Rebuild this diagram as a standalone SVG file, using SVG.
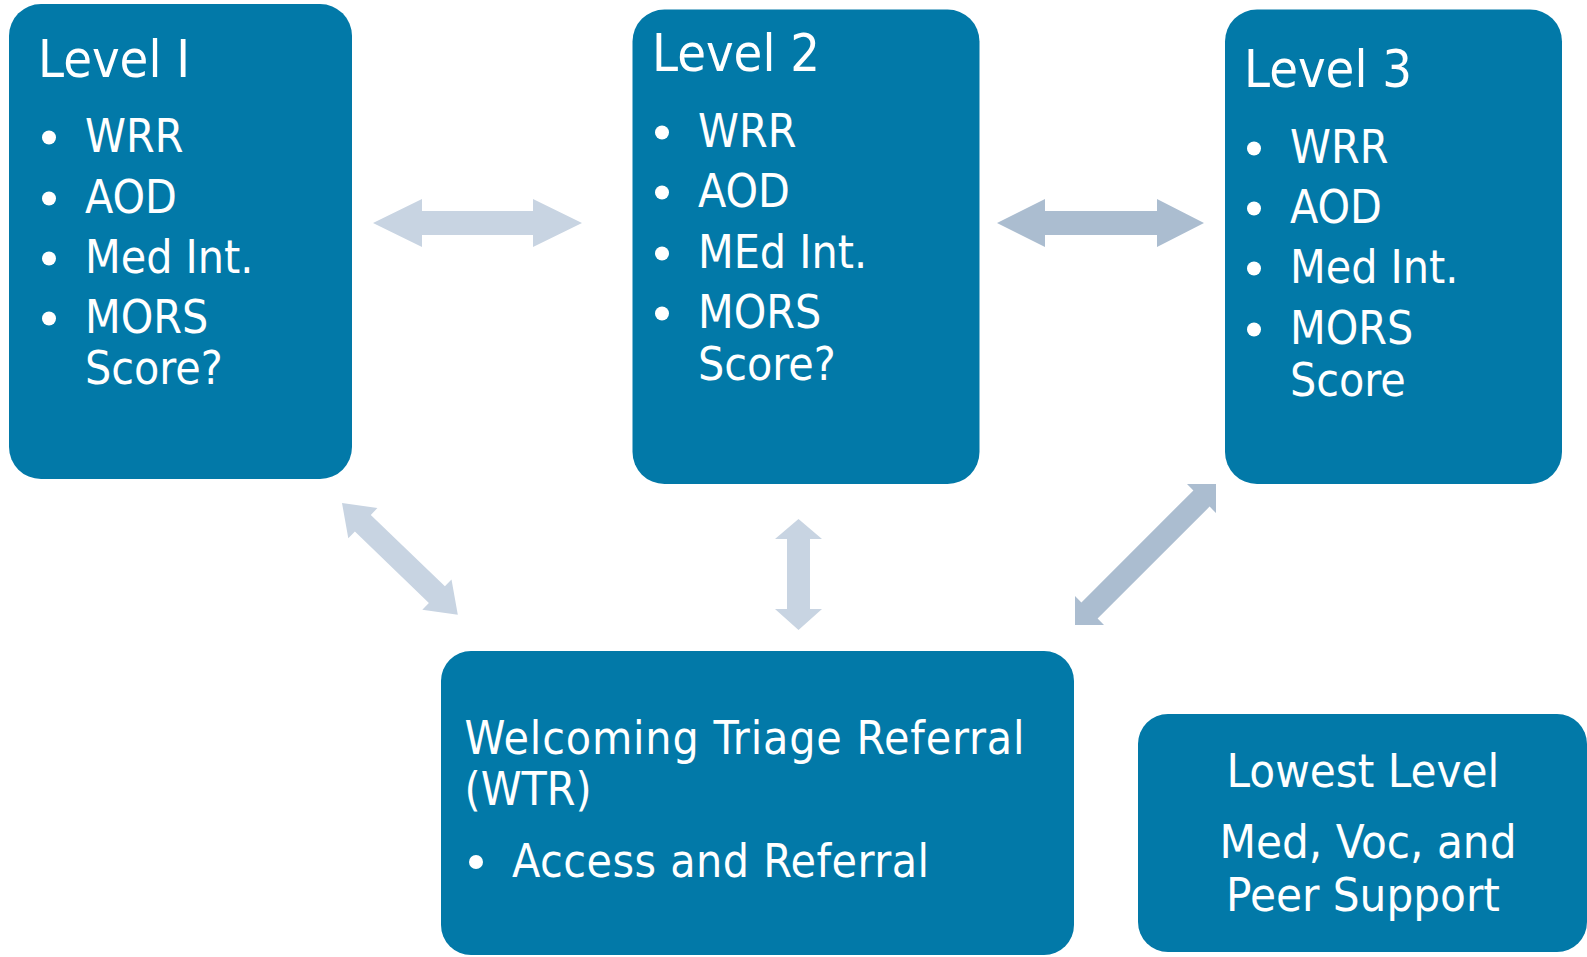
<svg xmlns="http://www.w3.org/2000/svg" width="1587" height="957" viewBox="0 0 1587 957">
<style>
.box{fill:#0279A8;}
.t{fill:#ffffff;font-family:"DejaVu Sans Condensed","DejaVu Sans",sans-serif;font-size:46px;}
.title{font-size:52px;}
.c{text-anchor:middle;font-size:47px;}
.dot{fill:#ffffff;}
.al{fill:#C8D4E2;}
.ad{fill:#ABBDD0;}
</style>
<rect width="1587" height="957" fill="#ffffff"/>
<g id="connectors">
<polygon class="al" points="373,223 422,199 422,211 533,211 533,199 582,223 533,247 533,235 422,235 422,247"/>
<polygon class="ad" points="997,223 1045,199 1045,211 1157,211 1157,199 1204,223 1157,247 1157,235 1045,235 1045,247"/>
<polygon class="al" points="342,503 377.4,508 370.8,514.9 444.9,586.3 451.5,579.5 457.8,614.7 422.3,609.7 428.9,602.9 354.9,531.4 348.3,538.2"/>
<polygon class="al" points="798.5,519 822,539 810,539 810,609 822,609 798.5,630 775,609 787,609 787,539 775,539"/>
<polygon class="ad" points="1216,484 1216,513 1209.6,506.6 1097.6,618.6 1104,625 1075,625 1075,596 1081.4,602.4 1193.4,490.4 1187,484"/>
</g>
<g id="level1">
<rect class="box" x="9" y="4" width="343" height="475" rx="32"/>
<text class="t title" x="38" y="77">Level I</text>
<circle class="dot" cx="49" cy="137.5" r="7"/>
<circle class="dot" cx="49" cy="198.5" r="7"/>
<circle class="dot" cx="49" cy="258.5" r="7"/>
<circle class="dot" cx="49" cy="318.5" r="7"/>
<text class="t" x="85" y="152">WRR</text>
<text class="t" x="85" y="213">AOD</text>
<text class="t" x="85" y="273">Med Int.</text>
<text class="t" x="85" y="333">MORS</text>
<text class="t" x="85" y="384">Score?</text>
</g>
<g id="level2">
<rect class="box" x="632.5" y="9.5" width="347" height="474.5" rx="32"/>
<text class="t title" x="652" y="71">Level 2</text>
<circle class="dot" cx="662" cy="132.5" r="7"/>
<circle class="dot" cx="662" cy="192.5" r="7"/>
<circle class="dot" cx="662" cy="253.5" r="7"/>
<circle class="dot" cx="662" cy="313.5" r="7"/>
<text class="t" x="698" y="147">WRR</text>
<text class="t" x="698" y="207">AOD</text>
<text class="t" x="698" y="268">MEd Int.</text>
<text class="t" x="698" y="328">MORS</text>
<text class="t" x="698" y="380">Score?</text>
</g>
<g id="level3">
<rect class="box" x="1225" y="9.5" width="337" height="474.5" rx="32"/>
<text class="t title" x="1244" y="87">Level 3</text>
<circle class="dot" cx="1254" cy="148.5" r="7"/>
<circle class="dot" cx="1254" cy="208.5" r="7"/>
<circle class="dot" cx="1254" cy="268.5" r="7"/>
<circle class="dot" cx="1254" cy="329.5" r="7"/>
<text class="t" x="1290" y="163">WRR</text>
<text class="t" x="1290" y="223">AOD</text>
<text class="t" x="1290" y="283">Med Int.</text>
<text class="t" x="1290" y="344">MORS</text>
<text class="t" x="1290" y="396">Score</text>
</g>
<g id="wtr">
<rect class="box" x="441" y="651" width="633" height="304" rx="30"/>
<text class="t" x="464.5" y="754" textLength="560" lengthAdjust="spacing">Welcoming Triage Referral</text>
<text class="t" x="464.5" y="805">(WTR)</text>
<circle class="dot" cx="476" cy="862" r="7"/>
<text class="t" x="512" y="877" textLength="417" lengthAdjust="spacing">Access and Referral</text>
</g>
<g id="lowest">
<rect class="box" x="1138" y="714" width="449" height="238" rx="30"/>
<text class="t c" x="1363" y="787">Lowest Level</text>
<text class="t c" x="1368" y="858">Med, Voc, and</text>
<text class="t c" x="1363" y="911">Peer Support</text>
</g>
</svg>
